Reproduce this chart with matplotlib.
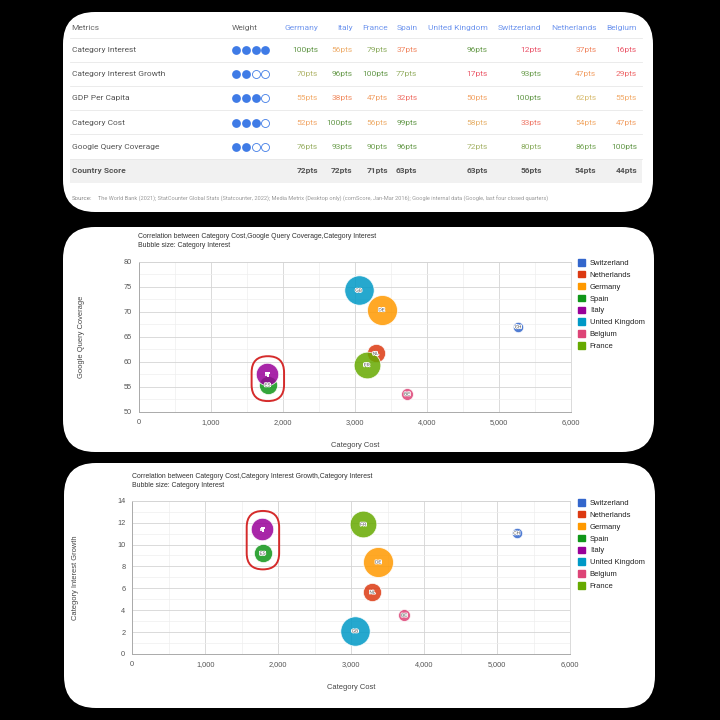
import matplotlib
matplotlib.use('Agg')
import matplotlib.pyplot as plt
import matplotlib.patheffects as pe
from matplotlib.patches import FancyBboxPatch, Patch
from matplotlib.colors import LinearSegmentedColormap
from matplotlib.transforms import IdentityTransform
from matplotlib.ticker import MultipleLocator, FuncFormatter
import numpy as np

# ---- table data ----
countries = ['Germany', 'Italy', 'France', 'Spain', 'United Kingdom',
             'Switzerland', 'Netherlands', 'Belgium']
metrics = ['Category Interest', 'Category Interest Growth', 'GDP Per Capita',
           'Category Cost', 'Google Query Coverage']
weights = [4, 2, 3, 3, 2]
pts_interest = [100, 56, 79, 37, 96, 12, 37, 16]
pts_growth = [70, 96, 100, 77, 17, 93, 47, 29]
pts_gdp = [55, 38, 47, 32, 50, 100, 62, 55]
pts_cost = [52, 100, 56, 99, 58, 33, 54, 47]
pts_coverage = [76, 93, 90, 96, 72, 80, 86, 100]
country_score = [72, 72, 71, 63, 63, 56, 54, 44]
source_text = ("The World Bank (2021); StatCounter Global Stats (Statcounter, 2022); "
               "Media Metrix (Desktop only) (comScore, Jan-Mar 2016); "
               "Google internal data (Google, last four closed quarters)")

# ---- bubble chart data (legend order) ----
series = ['Switzerland', 'Netherlands', 'Germany', 'Spain', 'Italy',
          'United Kingdom', 'Belgium', 'France']
codes = ['CH', 'NL', 'DE', 'ES', 'IT', 'GB', 'BE', 'FR']
cat_cost = [5265, 3290, 3370, 1785, 1780, 3050, 3725, 3165]
query_coverage = [67.0, 61.7, 70.4, 55.4, 57.5, 74.3, 53.6, 59.4]
interest_growth = [11.05, 5.65, 8.4, 9.2, 11.4, 2.1, 3.55, 11.85]
cat_interest = [12, 37, 100, 37, 56, 96, 16, 79]
colors = ['#3366cc', '#dc3912', '#ff9900', '#109618', '#990099',
          '#0099c6', '#dd4477', '#66aa00']

score_cmap = LinearSegmentedColormap.from_list('pts', [
    (0.0, '#e8466a'), (0.3, '#ee6a6a'), (0.4, '#f29660'), (0.55, '#f2ac6c'),
    (0.62, '#d8bc72'), (0.72, '#a8b46a'), (0.85, '#7aa85a'), (1.0, '#64984a')])

fig = plt.figure(figsize=(7.2, 7.2), dpi=100, facecolor='black')
bg = fig.add_axes([0, 0, 1, 1])
bg.set_xlim(0, 720)
bg.set_ylim(720, 0)
bg.axis('off')

for (x0, y0, w, h) in [(63, 12, 590, 200), (63, 227, 591, 225), (64, 463, 591, 245)]:
    bg.add_patch(FancyBboxPatch((x0, y0), w, h, boxstyle='round,pad=0,rounding_size=32',
                                fc='white', ec='none'))

# ---- table ----
tfont = 'Roboto'
fs = 6.0
col_x = [318, 352.5, 388, 417.5, 488, 541.5, 596.5, 637]
row_y = [50 + 24.2 * i for i in range(5)]
header_y = 27.7
bg.text(71.5, header_y, 'Metrics', fontsize=fs, family=tfont, color='#666', va='center')
bg.text(231.5, header_y, 'Weight', fontsize=fs, family=tfont, color='#666', va='center')
for cx, c in zip(col_x, countries):
    bg.text(cx, header_y, c, fontsize=fs, family=tfont, color='#7096ee',
            va='center', ha='right')

for ly in [38.3, 62.3, 86.3, 110.3, 134.3, 159]:
    bg.plot([70, 642], [ly, ly], color='#e8e8e8', lw=0.6)
bg.add_patch(plt.Rectangle((70, 159), 572, 24.3, fc='#f1f1f1', ec='none'))

rows = [pts_interest, pts_growth, pts_gdp, pts_cost, pts_coverage]
for ry, m, wgt, vals in zip(row_y, metrics, weights, rows):
    bg.text(71.5, ry, m, fontsize=fs, family=tfont, color='#555', va='center')
    dx = 235.7 + 9.9 * np.arange(4)
    filled = np.arange(4) < wgt
    bg.scatter(dx[filled], [ry] * filled.sum(), s=40, color='#3f7be6', lw=0)
    bg.scatter(dx[~filled], [ry] * (~filled).sum(), s=33, facecolor='white',
               edgecolor='#3f7be6', lw=0.6)
    for cx, v in zip(col_x, vals):
        bg.text(cx, ry, f'{v}pts', fontsize=fs, family=tfont,
                color=score_cmap(v / 100), va='center', ha='right')

bg.text(71.5, 171, 'Country Score', fontsize=fs, family=tfont, color='#555',
        va='center', fontweight='bold')
for cx, v in zip(col_x, country_score):
    bg.text(cx, 171, f'{v}pts', fontsize=fs, family=tfont, color='#555',
            va='center', ha='right', fontweight='bold')
bg.text(71.5, 199, 'Source:', fontsize=4.4, family=tfont, color='#888', va='center')
bg.text(98, 199, source_text, fontsize=4.1, family=tfont, color='#999', va='center')


# ---- bubble charts ----
cfont = 'Liberation Sans'


def bubble_chart(rect, yvals, ylim, ystep, title, ylabel, px):
    ax = fig.add_axes(rect)
    ax.set_facecolor('white')
    ax.set_xlim(0, 6000)
    ax.set_ylim(*ylim)
    ax.xaxis.set_major_locator(MultipleLocator(1000))
    ax.xaxis.set_minor_locator(MultipleLocator(500))
    ax.yaxis.set_major_locator(MultipleLocator(ystep))
    ax.yaxis.set_minor_locator(MultipleLocator(ystep / 2))
    ax.xaxis.set_major_formatter(FuncFormatter(lambda v, p: f'{int(v):,}'))
    ax.grid(which='major', color='#d4d4d4', lw=0.6)
    ax.grid(which='minor', color='#eeeeee', lw=0.5)
    ax.set_axisbelow(True)
    ax.tick_params(which='both', length=0, labelsize=5.3, labelcolor='#555')
    ax.tick_params(axis='x', pad=5)
    ax.tick_params(axis='y', pad=5)
    for t in ax.get_xticklabels() + ax.get_yticklabels():
        t.set_family(cfont)
    for s in ['top', 'right']:
        ax.spines[s].set_color('#d4d4d4')
        ax.spines[s].set_linewidth(0.6)
    for s in ['left', 'bottom']:
        ax.spines[s].set_color('#aaaaaa')
        ax.spines[s].set_linewidth(0.7)

    radius = 1.5 * np.sqrt(np.array(cat_interest))  # pixels
    sizes = (2 * radius * 0.72) ** 2
    for i in range(len(series)):
        ax.scatter(cat_cost[i], yvals[i], s=sizes[i], color=colors[i], alpha=0.85,
                   edgecolor='white', lw=0.6, zorder=3, label=series[i])
        ax.text(cat_cost[i], yvals[i], codes[i], fontsize=3.3, family=cfont,
                color='#444', ha='center', va='center', zorder=4,
                path_effects=[pe.withStroke(linewidth=1.2, foreground='white')])

    ax.set_xlabel('Category Cost', fontsize=5.4, family=cfont, color='#444')
    ax.set_ylabel(ylabel, fontsize=5.4, family=cfont, color='#444')
    ax.xaxis.set_label_coords(0.5, -0.198)
    ax.yaxis.set_label_coords(px[0], 0.5)

    bg.text(px[1], px[2], title, fontsize=4.95, family=cfont, color='#333', va='center')
    bg.text(px[1], px[2] + 9, 'Bubble size: Category Interest', fontsize=4.95,
            family=cfont, color='#333', va='center')

    handles = [Patch(color=c, label=s) for c, s in zip(colors, series)]
    ax.legend(handles=handles, loc='upper left', bbox_to_anchor=(px[3], px[4]),
              bbox_transform=fig.transFigure, frameon=False, prop={'family': cfont, 'size': 5.5},
              handlelength=0.95, handleheight=0.95, handletextpad=0.6, labelspacing=0.52,
              borderaxespad=0, borderpad=0, labelcolor='#222')

    # highlight around Italy / Spain
    ix, es = series.index('Italy'), series.index('Spain')
    p_it = ax.transData.transform((cat_cost[ix], yvals[ix]))
    p_es = ax.transData.transform((cat_cost[es], yvals[es]))
    cx = (p_it[0] + p_es[0]) / 2 + 0.5
    hw = radius[ix] + 5
    top = max(p_it[1], p_es[1]) + radius[ix] + 7
    bot = min(p_it[1], p_es[1]) - radius[es] - 7
    ax.add_patch(FancyBboxPatch((cx - hw, bot), 2 * hw, top - bot,
                                boxstyle=f'round,pad=0,rounding_size={hw}',
                                transform=IdentityTransform(), fc='none',
                                ec='#d52b2b', lw=1.4, clip_on=False, zorder=5))
    return ax


bubble_chart([139 / 720, 308 / 720, 432 / 720, 150.3 / 720], query_coverage, (50, 80), 5,
             'Correlation between Category Cost,Google Query Coverage,Category Interest',
             'Google Query Coverage', (-0.125, 138, 236.7, 578 / 720, 1 - 259 / 720))
bubble_chart([132.3 / 720, 66 / 720, 438 / 720, 153.3 / 720], interest_growth, (0, 14), 2,
             'Correlation between Category Cost,Category Interest Growth,Category Interest',
             'Category Interest Growth', (-0.122, 132, 476.7, 578 / 720, 1 - 499 / 720))

fig.savefig('out.png', dpi=100, facecolor='black')
